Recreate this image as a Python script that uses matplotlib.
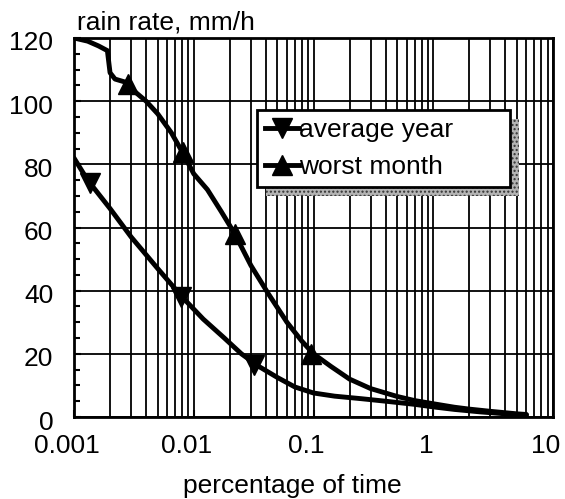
import matplotlib
matplotlib.use("Agg")
import matplotlib.pyplot as plt
from matplotlib.ticker import FixedLocator, NullFormatter
from matplotlib.lines import Line2D
import matplotlib.patches as mpatches
import matplotlib.transforms as mtransforms

# curve data (percentage of time, rain rate mm/h)
avg_x = [0.001, 0.0013, 0.002, 0.003, 0.005, 0.008, 0.012, 0.018, 0.025, 0.035,
         0.05, 0.07, 0.1, 0.15, 0.25, 0.4, 0.7, 1.0, 1.5, 2.5, 4.0, 6.0]
avg_y = [82, 75, 66, 57, 47, 38, 31, 25, 20, 16,
         12.5, 9.5, 7.6, 6.6, 5.8, 5.0, 4.0, 3.2, 2.4, 1.6, 1.0, 0.6]
avg_mx = [0.00135, 0.0079, 0.032]
avg_my = [74, 38, 16.5]

worst_x = [0.001, 0.0013, 0.0016, 0.0019, 0.002, 0.0022, 0.0027, 0.003, 0.004, 0.005,
           0.0065, 0.008, 0.01, 0.013, 0.017, 0.022, 0.03, 0.042, 0.06, 0.08,
           0.1, 0.14, 0.2, 0.3, 0.5, 0.7, 1.0, 1.5, 2.0, 3.0, 5.0, 6.0]
worst_y = [120, 119, 117.5, 116, 109, 107, 106, 104, 100, 96,
           90, 84, 77, 72, 65, 58, 48, 39, 30, 24,
           20, 16, 12, 9, 6.5, 5.2, 4.2, 3.1, 2.5, 1.8, 1.0, 0.8]
worst_mx = [0.0028, 0.0081, 0.022, 0.096]
worst_my = [105.5, 84, 58, 20]

labels = ["average year", "worst month"]
xticks = [0.001, 0.01, 0.1, 1, 10]
xticklabels = ["0.001", "0.01", "0.1", "1", "10"]
yticks = [0, 20, 40, 60, 80, 100, 120]

plt.rcParams['font.family'] = ['Liberation Sans', 'DejaVu Sans']
FS = 19

fig = plt.figure(figsize=(5.65, 4.99), dpi=100)
ax = fig.add_axes([74 / 565, 1 - 417 / 499, (553 - 74) / 565, (417 - 38) / 499])

ax.set_xscale("log")
ax.set_xlim(0.001, 10)
ax.set_ylim(0, 120)

# grid at every minor decade step, like log paper
minors = [m * 10.0 ** e for e in range(-3, 1) for m in range(2, 10)]
ax.xaxis.set_minor_locator(FixedLocator(minors))
ax.xaxis.set_minor_formatter(NullFormatter())
ax.set_xticks(xticks)
ax.set_xticklabels(xticklabels)
ax.set_yticks(yticks)
ax.yaxis.set_minor_locator(FixedLocator([v for v in range(0, 121, 5) if v % 20]))
ax.grid(True, which="both", axis="x", color="black", lw=1.3)
ax.grid(True, which="major", axis="y", color="black", lw=1.3)

ax.tick_params(axis="both", which="major", direction="in", length=5, width=1.5,
               labelsize=FS)
ax.tick_params(axis="x", which="major", pad=12)
ax.tick_params(axis="y", which="major", pad=15)
ax.tick_params(axis="y", which="minor", direction="in", length=4, width=1.5)
ax.tick_params(axis="x", which="minor", length=0)
for s in ax.spines.values():
    s.set_linewidth(2)

# x labels sit a little left of their ticks in the original
shift = mtransforms.ScaledTranslation(-7 / 100, 0, fig.dpi_scale_trans)
for lab in ax.get_xticklabels():
    lab.set_transform(lab.get_transform() + shift)
shift_y = mtransforms.ScaledTranslation(0, -3 / 100, fig.dpi_scale_trans)
for lab in ax.get_yticklabels():
    lab.set_transform(lab.get_transform() + shift_y)

ax.plot(avg_x, avg_y, color="black", lw=3.5, solid_capstyle="round")
ax.plot(worst_x, worst_y, color="black", lw=3.5, solid_capstyle="round")
ax.plot(avg_mx, avg_my, ls="none", marker="v", ms=15, color="black")
ax.plot(worst_mx, worst_my, ls="none", marker="^", ms=15, color="black")

handles = [Line2D([], [], color="black", lw=3.5, marker="v", ms=15),
           Line2D([], [], color="black", lw=3.5, marker="^", ms=15)]
lx0 = (257 - 74) / 479
ly1 = (417 - 110) / 379
lw_ = (510 - 257) / 479
lh_ = (190 - 110) / 379
leg = ax.legend(handles, labels, loc="upper left", mode="expand",
                bbox_to_anchor=(lx0, ly1 - lh_, lw_, lh_),
                frameon=True, fancybox=False, framealpha=1, edgecolor="black",
                fontsize=FS, handlelength=1.3, handletextpad=0.0,
                borderpad=0.3, labelspacing=0.5, borderaxespad=0)
leg.get_frame().set_linewidth(2)
leg.set_zorder(10)

ax.text(0.006, 1 + 8 / 379, "rain rate, mm/h", transform=ax.transAxes, fontsize=FS,
        ha="left", va="baseline")
ax.set_xlabel("percentage of time", fontsize=FS)
ax.xaxis.set_label_coords(0.455, -0.15)

# dotted shadow behind the legend box
fig.canvas.draw()
bb = leg.get_frame().get_window_extent().transformed(ax.transAxes.inverted())
shadow = mpatches.Rectangle((bb.x0 + 9 / 479, bb.y0 - 9 / 379), bb.width, bb.height,
                            transform=ax.transAxes, facecolor="#b4b4b4",
                            edgecolor="#333333", lw=0, hatch="....", zorder=4,
                            clip_on=False)
ax.add_patch(shadow)

fig.savefig("out.png", dpi=100)
